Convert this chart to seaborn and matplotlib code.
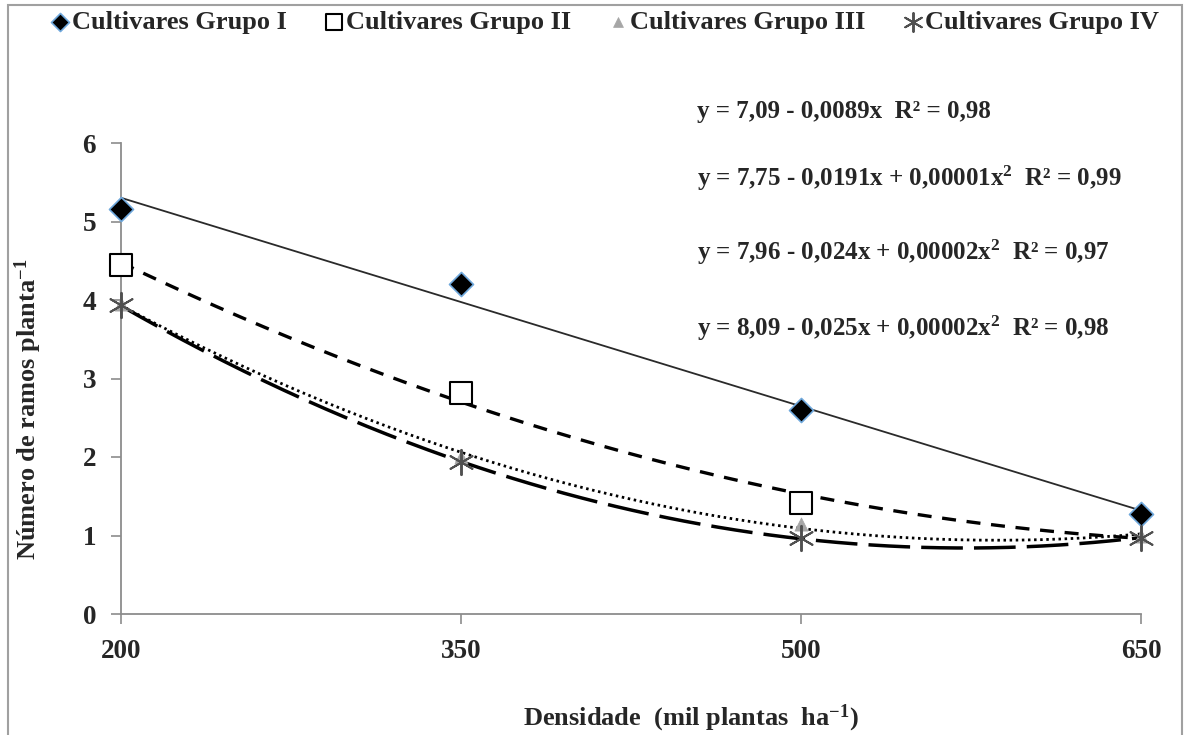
import numpy as np
import pandas as pd
import matplotlib
matplotlib.use("Agg")
import matplotlib.pyplot as plt
from matplotlib.patches import Rectangle
import seaborn as sns

# Plant density (thousand plants per hectare)
densidade = [200, 350, 500, 650]

# Mean number of branches per plant for each cultivar group
grupo_i = [5.16, 4.21, 2.60, 1.27]
grupo_ii = [4.44, 2.81, 1.42, 1.00]
grupo_iii = [3.95, 2.00, 1.15, 1.00]
grupo_iv = [3.93, 1.93, 0.97, 0.97]

nomes = ["Cultivares Grupo I", "Cultivares Grupo II",
         "Cultivares Grupo III", "Cultivares Grupo IV"]
graus = [1, 2, 2, 2]

# Densities whose marker is drawn for each group (Group II at 650 is
# covered by the Group IV marker)
densidades_marcadas = [
    [200, 350, 500, 650],
    [200, 350, 500],
    [200, 350, 500, 650],
    [200, 350, 500, 650],
]

equacoes = [
    "y = 7,09 - 0,0089x  R² = 0,98",
    "y = 7,75 - 0,0191x + 0,00001x$^{2}$  R² = 0,99",
    "y = 7,96 - 0,024x + 0,00002x$^{2}$  R² = 0,97",
    "y = 8,09 - 0,025x + 0,00002x$^{2}$  R² = 0,98",
]

sns.set_theme(style="white")
plt.rcParams["font.family"] = ["Liberation Serif", "DejaVu Serif"]
plt.rcParams["font.weight"] = "bold"
plt.rcParams["mathtext.fontset"] = "custom"
plt.rcParams["mathtext.rm"] = "Liberation Serif:bold"
plt.rcParams["mathtext.bf"] = "Liberation Serif:bold"
plt.rcParams["mathtext.it"] = "Liberation Serif:bold"
plt.rcParams["mathtext.default"] = "rm"

df = pd.DataFrame({
    "densidade": densidade * 4,
    "ramos": grupo_i + grupo_ii + grupo_iii + grupo_iv,
    "grupo": np.repeat(nomes, len(densidade)),
})

fig = plt.figure(figsize=(11.91, 7.35), dpi=100)
ax = fig.add_axes([121 / 1191, 1 - 614 / 735, 1020 / 1191, 471 / 735])

# Trend lines fitted to each group
estilos_linha = [
    dict(color="#2a2a2a", lw=1.3, linestyle="-"),
    dict(color="black", lw=2.4, linestyle=(0, (4.2, 3.2))),
    dict(color="black", lw=2.0, linestyle=(0, (0.9, 1.3))),
    dict(color="black", lw=2.5, linestyle=(0, (12, 3.2))),
]
xs = np.linspace(min(densidade), max(densidade), 300)
for nome, grau, est in zip(nomes, graus, estilos_linha):
    sub = df[df["grupo"] == nome]
    coef = np.polyfit(sub["densidade"], sub["ramos"], grau)
    sns.lineplot(x=xs, y=np.polyval(coef, xs), ax=ax, zorder=2, **est)

# Observed means
estilos_ponto = [
    dict(marker="D", s=150, color="black", edgecolor="#6fa8dc", linewidth=1.2),
    dict(marker="s", s=230, color="white", edgecolor="black", linewidth=1.5),
    dict(marker="^", s=90, color="#a6a6a6", edgecolor="#a6a6a6", linewidth=0.5),
    dict(marker=(6, 2, 0), s=330, color="#505050", linewidth=1.4),
]
for i, (nome, est, marcadas) in enumerate(zip(nomes, estilos_ponto,
                                              densidades_marcadas)):
    sub = df[(df["grupo"] == nome) & df["densidade"].isin(marcadas)]
    sns.scatterplot(data=sub, x="densidade", y="ramos", ax=ax, label=nome,
                    zorder=3 + i, clip_on=False, **est)

ax.set_xlim(200, 650)
ax.set_ylim(0, 6)
ax.set_xticks(densidade)
ax.set_yticks(range(0, 7))
ax.tick_params(axis="both", which="major", direction="out", length=7,
               width=1.2, color="#8c8c8c", labelsize=19.5, pad=11,
               bottom=True, left=True)
for lab in ax.get_xticklabels() + ax.get_yticklabels():
    lab.set_fontweight("bold")
for side in ["top", "right"]:
    ax.spines[side].set_visible(False)
for side in ["left", "bottom"]:
    ax.spines[side].set_color("#8c8c8c")
    ax.spines[side].set_linewidth(1.3)
ax.grid(False)

ax.set_ylabel("Número de ramos planta$^{-1}$", fontsize=19, fontweight="bold")
ax.yaxis.label.set_va("center")
ax.yaxis.set_label_coords(-0.0905, 0.434)
ax.set_xlabel("Densidade  (mil plantas  ha$^{-1}$)", fontsize=19, fontweight="bold")
ax.xaxis.label.set_va("center")
ax.xaxis.set_label_coords(0.559, -0.221)

# Regression equations
for eq, ypix in zip(equacoes, [112, 178, 252, 328]):
    ax.text((697 - 121) / 1020, (613 - ypix) / 470, eq, transform=ax.transAxes,
            ha="left", va="center", fontsize=18, fontweight="bold")

handles, labels = ax.get_legend_handles_labels()
ax.get_legend().remove()
fig.legend(handles, labels, loc="center", ncol=4,
           bbox_to_anchor=(604 / 1191, 1 - 22 / 735), frameon=False,
           fontsize=19, handletextpad=0.05, columnspacing=1.4,
           handlelength=0.8, markerscale=0.75)

# Outer frame
fig.add_artist(Rectangle((8 / 1191, -0.02), 1174 / 1191, 1.02 - 5 / 735,
                         transform=fig.transFigure, fill=False,
                         edgecolor="#a0a0a0", linewidth=1.5, clip_on=False))

fig.savefig("out.png", dpi=100)
